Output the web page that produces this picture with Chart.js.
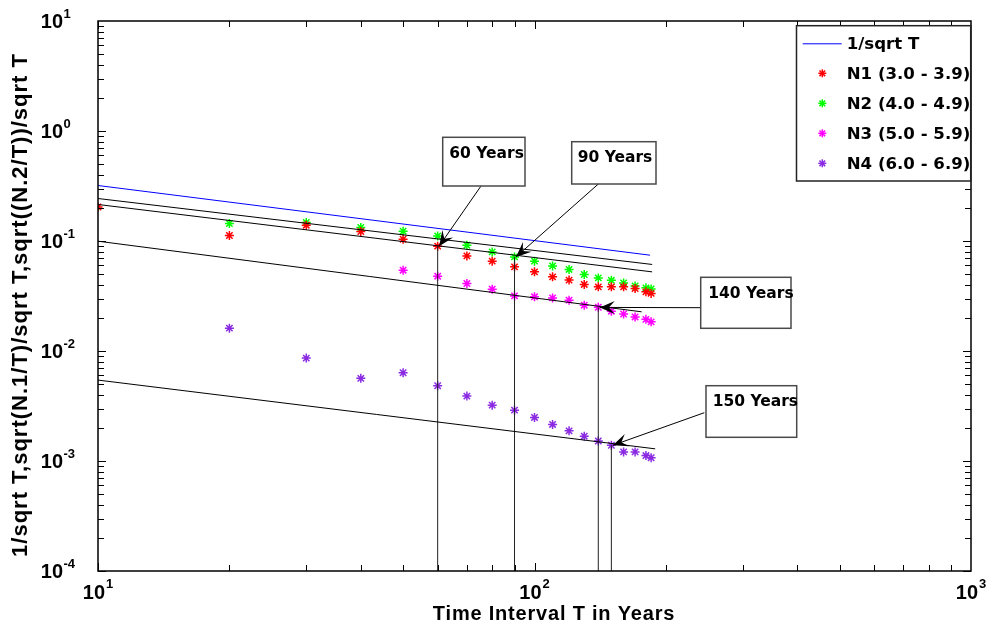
<!DOCTYPE html>
<html><head><meta charset="utf-8">
<script src="https://cdn.jsdelivr.net/npm/chart.js@4/dist/chart.umd.min.js"></script>
<style>html,body{margin:0;padding:0;background:#fff;}canvas{display:block;}</style>
</head><body>
<canvas id="c" width="989" height="626"></canvas>
<script>
// ---------------- data ----------------
const T_N1 = [10,20,30,40,50,60,70,80,90,100,110,120,130,140,150,160,170,180,185];
const V_N1 = [0.204,0.1122,0.1392,0.1220,0.1039,0.0898,0.0732,0.0656,0.0582,0.0524,0.0472,0.0441,0.0403,0.0383,0.0383,0.0383,0.0370,0.0345,0.0334];
const T_N2 = [20,30,40,50,60,70,80,90,100,110,120,130,140,150,160,170,180,185];
const V_N2 = [0.1443,0.1473,0.1327,0.1228,0.1113,0.0916,0.0796,0.0717,0.0656,0.0594,0.0551,0.0496,0.0462,0.0439,0.0416,0.0390,0.0375,0.0367];
const T_N3 = [50,60,70,80,90,100,110,120,130,140,150,160,170,180,185];
const V_N3 = [0.0543,0.0479,0.0411,0.0365,0.0317,0.0311,0.0304,0.0290,0.0261,0.0250,0.0230,0.0217,0.0204,0.0194,0.0184];
const T_N4 = [20,30,40,50,60,70,80,90,100,110,120,130,140,150,160,170,180,185];
const V_N4 = [0.01614,0.00862,0.00564,0.00634,0.00483,0.00389,0.00322,0.00290,0.00249,0.00215,0.00188,0.00168,0.00152,0.00139,0.00121,0.00121,0.00112,0.00107];

const BLUE_T = [10,184];   const BLUE_V = [0.3195,0.0743];
const BLK1_T = [10,186];   const BLK1_V = [0.2434,0.0612];
const BLK2_T = [10,186];   const BLK2_V = [0.2147,0.0524];
const BLK3_T = [10,176];   const BLK3_V = [0.0996,0.0227];
const BLK4_T = [10,189];   const BLK4_V = [0.00544,0.00129];

const MARK_T = [60,90,140,150];
const MARK_V = [0.0898,0.0717,0.0249,0.00139];
const MARK_LABELS = ['60 Years','90 Years','140 Years','150 Years'];

const SERIES_NAMES = ['1/sqrt T','N1 (3.0 - 3.9)','N2 (4.0 - 4.9)','N3 (5.0 - 5.9)','N4 (6.0 - 6.9)'];
const X_DECADES = [1,2,3];
const Y_DECADES = [-4,-3,-2,-1,0,1];
const X_TITLE = 'Time Interval T in Years';
const Y_TITLE = '1/sqrt T,sqrt(N.1/T)/sqrt T,sqrt((N.2/T))/sqrt T';

// ---------------- styles ----------------
const COLORS = ['#0000ff','#ff0000','#00ff00','#ff00ff','#8a2be2'];
const pts = (xs, ys) => xs.map((x,i)=>({x:x, y:ys[i]}));
const lineDs = (d, color) => ({data:d, borderColor:color, borderWidth:1, pointRadius:0, showLine:true, fill:false});
const starDs = (d, color) => ({data:d, borderColor:color, backgroundColor:color, pointStyle:'star', pointRadius:4.5, pointBorderWidth:1.5, showLine:false});

const datasets = [
  lineDs(pts(BLK1_T,BLK1_V),'#000'),
  lineDs(pts(BLK2_T,BLK2_V),'#000'),
  lineDs(pts(BLK3_T,BLK3_V),'#000'),
  lineDs(pts(BLK4_T,BLK4_V),'#000'),
];
MARK_T.forEach((t,i)=>datasets.push(lineDs([{x:t,y:1e-4},{x:t,y:MARK_V[i]}],'#222')));
datasets.push(lineDs(pts(BLUE_T,BLUE_V),COLORS[0]));
datasets.push(starDs(pts(T_N1,V_N1),COLORS[1]));
datasets.push(starDs(pts(T_N2,V_N2),COLORS[2]));
datasets.push(starDs(pts(T_N3,V_N3),COLORS[3]));
datasets.push(starDs(pts(T_N4,V_N4),COLORS[4]));

// annotation boxes (figure pixels)
const BOXES = [
  {r:[442.7,137.3,82.3,48.7], tx:449.3, ty:154.3, tail:[481,186]},
  {r:[571.7,141.7,84.3,42.3], tx:577.7, ty:157.7, tail:[598.3,184]},
  {r:[700.7,277.3,90.3,51],   tx:708.3, ty:294.3, tail:[700.7,307.7]},
  {r:[706,385.7,90.7,51.6],   tx:712.7, ty:401.7, tail:[704.3,412.7]},
];

function seg(ctx,x1,y1,x2,y2){ctx.beginPath();ctx.moveTo(x1,y1);ctx.lineTo(x2,y2);ctx.stroke();}
function star(ctx,x,y,r,color){
  ctx.save();ctx.strokeStyle=color;ctx.lineWidth=1.5;
  seg(ctx,x-r,y,x+r,y);seg(ctx,x,y-r,x,y+r);
  const d=r*0.7071;seg(ctx,x-d,y-d,x+d,y+d);seg(ctx,x-d,y+d,x+d,y-d);
  ctx.restore();
}
function arrow(ctx,x1,y1,x2,y2){
  ctx.save();ctx.strokeStyle='#000';ctx.fillStyle='#000';ctx.lineWidth=1;
  seg(ctx,x1,y1,x2,y2);
  const dx=x2-x1,dy=y2-y1,len=Math.hypot(dx,dy),ux=dx/len,uy=dy/len,nx=-uy,ny=ux;
  const L=15,W=6.5;
  ctx.beginPath();
  ctx.moveTo(x2,y2);
  ctx.lineTo(x2-L*ux+W*nx,y2-L*uy+W*ny);
  ctx.lineTo(x2-0.6*L*ux,y2-0.6*L*uy);
  ctx.lineTo(x2-L*ux-W*nx,y2-L*uy-W*ny);
  ctx.closePath();ctx.fill();
  ctx.restore();
}

const decor = {
  id:'decor',
  afterDraw(chart){
    const ctx=chart.ctx, a=chart.chartArea, xs=chart.scales.x, ys=chart.scales.y;
    ctx.save();
    // ticks (inside, all four sides)
    ctx.strokeStyle='#000';ctx.lineWidth=1;
    for(const d of [1,2]) for(let k=1;k<=9;k++){
      const px=Math.round(xs.getPixelForValue(k*Math.pow(10,d)))+0.5, L=k===1?8:6;
      seg(ctx,px,a.bottom,px,a.bottom-L);seg(ctx,px,a.top,px,a.top+L);
    }
    for(const d of [-4,-3,-2,-1,0]) for(let k=1;k<=9;k++){
      const py=Math.round(ys.getPixelForValue(k*Math.pow(10,d)))+0.5, L=k===1?8:6;
      seg(ctx,a.left,py,a.left+L,py);seg(ctx,a.right,py,a.right-L,py);
    }
    ctx.lineWidth=1.5;ctx.strokeRect(a.left,a.top,a.right-a.left,a.bottom-a.top);

    // tick labels
    ctx.fillStyle='#000';
    const F10='bold 20px "Liberation Sans", Arial, sans-serif', FEX='bold 13px "Liberation Sans", Arial, sans-serif';
    for(const d of Y_DECADES){
      const py=ys.getPixelForValue(Math.pow(10,d));
      ctx.font=F10;ctx.textAlign='right';ctx.textBaseline='alphabetic';
      ctx.fillText('10',63,py+7);
      ctx.font=FEX;ctx.textAlign='left';
      ctx.fillText(String(d),63.5,py-3);
    }
    for(const d of X_DECADES){
      const px=xs.getPixelForValue(Math.pow(10,d));
      ctx.font=F10;const w1=ctx.measureText('10').width;
      ctx.font=FEX;const w2=ctx.measureText(String(d)).width;
      const s=px-(w1+w2+1)/2;
      ctx.textAlign='left';ctx.textBaseline='alphabetic';
      ctx.font=F10;ctx.fillText('10',s,599);
      ctx.font=FEX;ctx.fillText(String(d),s+w1+1,588);
    }
    // axis titles
    ctx.font='bold 20px "Liberation Sans", Arial, sans-serif';
    ctx.letterSpacing='0.8px';
    ctx.textAlign='center';ctx.textBaseline='alphabetic';
    ctx.fillText(X_TITLE,554,620);
    ctx.save();
    ctx.translate(27,305);ctx.rotate(-Math.PI/2);
    ctx.font='bold 22px "Liberation Sans", Arial, sans-serif';
    ctx.letterSpacing='1px';
    ctx.fillText(Y_TITLE,0,0);
    ctx.restore();
    ctx.letterSpacing='0px';

    // annotations
    BOXES.forEach((b,i)=>{
      const tip=[xs.getPixelForValue(MARK_T[i]), ys.getPixelForValue(MARK_V[i])];
      arrow(ctx,b.tail[0],b.tail[1],tip[0]+1.5,tip[1]);
      ctx.strokeStyle='#4a4a4a';ctx.lineWidth=1.5;
      ctx.strokeRect(b.r[0],b.r[1],b.r[2],b.r[3]);
      ctx.fillStyle='#000';ctx.font='bold 15.5px "DejaVu Sans", sans-serif';
      ctx.textAlign='left';ctx.textBaseline='middle';
      ctx.fillText(MARK_LABELS[i],b.tx,b.ty);
    });

    // legend
    const LB=[796.5,25.7,174.2,155.3];
    ctx.fillStyle='#fff';ctx.fillRect(LB[0],LB[1],LB[2],LB[3]);
    ctx.strokeStyle='#222';ctx.lineWidth=1.5;ctx.strokeRect(LB[0],LB[1],LB[2],LB[3]);
    ctx.font='bold 16.6px "DejaVu Sans", sans-serif';ctx.textAlign='left';ctx.textBaseline='middle';
    SERIES_NAMES.forEach((name,i)=>{
      const cy=43.3+30*i;
      if(i===0){ctx.strokeStyle=COLORS[0];ctx.lineWidth=1;seg(ctx,802.7,cy+0.5,841.7,cy+0.5);}
      else star(ctx,822.3,cy,4,COLORS[i]);
      ctx.fillStyle='#000';ctx.fillText(name,846.7,cy+1);
    });
    ctx.restore();
  }
};

new Chart(document.getElementById('c'),{
  type:'scatter',
  data:{datasets:datasets},
  options:{
    responsive:false, animation:false, devicePixelRatio:1,
    layout:{padding:{left:98,top:21,right:18,bottom:55}},
    plugins:{legend:{display:false},tooltip:{enabled:false}},
    scales:{
      x:{type:'logarithmic',min:10,max:1000,display:false},
      y:{type:'logarithmic',min:1e-4,max:10,display:false}
    }
  },
  plugins:[decor]
});
</script>
</body></html>
